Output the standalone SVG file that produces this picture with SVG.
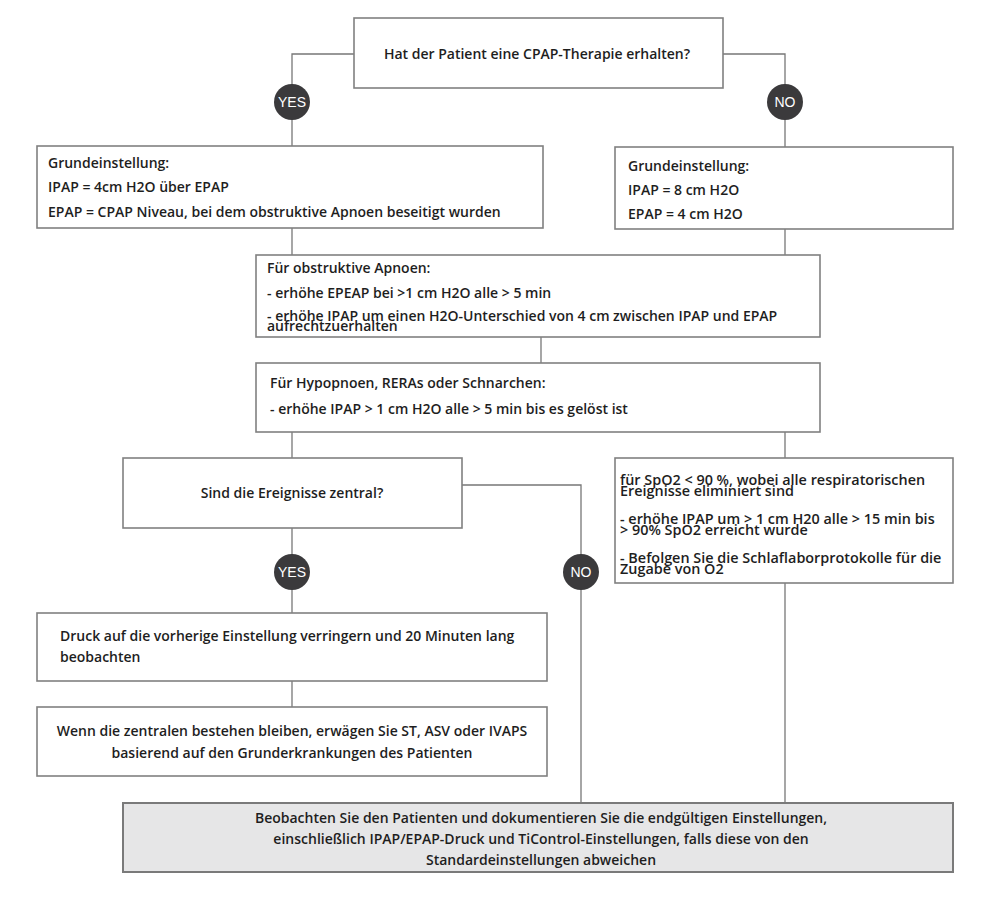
<svg xmlns="http://www.w3.org/2000/svg" width="1000" height="906" viewBox="0 0 1000 906">
<style>
.box{fill:#ffffff;stroke:#808080;stroke-width:1.6}
.final{fill:#e6e6e7;stroke:#7a7a7a;stroke-width:2}
.ln{fill:none;stroke:#777777;stroke-width:1.3}
.t{font-family:"Open Sans","Liberation Sans",sans-serif;font-weight:600;font-size:14px;fill:#1e1e1e}
.s{font-size:14.4px}
.tc{text-anchor:middle}
.badge{fill:#3b3a3c}
.bt{font-family:"Liberation Sans","DejaVu Sans",sans-serif;font-size:14px;fill:#ffffff;text-anchor:middle}
</style>
<rect width="1000" height="906" fill="#ffffff"/>
<g id="connectors">
<polyline class="ln" points="354,54 292,54 292,146"/>
<polyline class="ln" points="723,54 785,54 785,147"/>
<line class="ln" x1="292" y1="228" x2="292" y2="255"/>
<line class="ln" x1="785" y1="229" x2="785" y2="255"/>
<line class="ln" x1="541" y1="337" x2="541" y2="363"/>
<line class="ln" x1="292" y1="432" x2="292" y2="458"/>
<line class="ln" x1="785" y1="432" x2="785" y2="458"/>
<polyline class="ln" points="462,485 581,485 581,803"/>
<line class="ln" x1="292" y1="528" x2="292" y2="613"/>
<line class="ln" x1="292" y1="681" x2="292" y2="707"/>
<line class="ln" x1="785" y1="583" x2="785" y2="803"/>
</g>
<g id="q1">
<rect class="box" x="354" y="18" width="369" height="70"/>
<text class="t tc" x="537" y="59">Hat der Patient eine CPAP-Therapie erhalten?</text>
</g>
<g id="yes1"><circle class="badge" cx="292" cy="102" r="18"/><text class="bt" x="292" y="107">YES</text></g>
<g id="no1"><circle class="badge" cx="785" cy="102" r="18"/><text class="bt" x="785" y="107">NO</text></g>
<g id="grund-yes">
<rect class="box" x="37" y="146" width="506" height="82"/>
<text class="t" x="48" y="168">Grundeinstellung:</text>
<text class="t" x="48" y="192">IPAP = 4cm H2O über EPAP</text>
<text class="t" x="48" y="217">EPAP = CPAP Niveau, bei dem obstruktive Apnoen beseitigt wurden</text>
</g>
<g id="grund-no">
<rect class="box" x="615" y="147" width="338" height="82"/>
<text class="t" x="628" y="171">Grundeinstellung:</text>
<text class="t" x="628" y="195">IPAP = 8 cm H2O</text>
<text class="t" x="628" y="219">EPAP = 4 cm H2O</text>
</g>
<g id="obstruktiv">
<rect class="box" x="256" y="255" width="564" height="82"/>
<text class="t" x="267" y="273">Für obstruktive Apnoen:</text>
<text class="t" x="267" y="298">- erhöhe EPEAP bei &gt;1 cm H2O alle &gt; 5 min</text>
<text class="t" x="267" y="321">- erhöhe IPAP um einen H2O-Unterschied von 4 cm zwischen IPAP und EPAP</text>
<text class="t" x="267" y="331">aufrechtzuerhalten</text>
</g>
<g id="hypopnoen">
<rect class="box" x="256" y="363" width="564" height="69"/>
<text class="t" x="270" y="388">Für Hypopnoen, RERAs oder Schnarchen:</text>
<text class="t" x="270" y="414">- erhöhe IPAP &gt; 1 cm H2O alle &gt; 5 min bis es gelöst ist</text>
</g>
<g id="q2">
<rect class="box" x="123" y="458" width="339" height="70"/>
<text class="t tc" x="292" y="498">Sind die Ereignisse zentral?</text>
</g>
<g id="yes2"><circle class="badge" cx="292" cy="572" r="18"/><text class="bt" x="292" y="577">YES</text></g>
<g id="no2"><circle class="badge" cx="581" cy="572" r="18"/><text class="bt" x="581" y="577">NO</text></g>
<g id="spo2">
<rect class="box" x="615" y="458" width="338" height="125"/>
<text class="t s" x="620" y="485">für SpO2 &lt; 90 %, wobei alle respiratorischen</text>
<text class="t s" x="620" y="496">Ereignisse eliminiert sind</text>
<text class="t s" x="620" y="524">- erhöhe IPAP um &gt; 1 cm H20 alle &gt; 15 min bis</text>
<text class="t s" x="620" y="535">&gt; 90% SpO2 erreicht wurde</text>
<text class="t s" x="620" y="563">- Befolgen Sie die Schlaflaborprotokolle für die</text>
<text class="t s" x="620" y="574">Zugabe von O2</text>
</g>
<g id="druck">
<rect class="box" x="37" y="613" width="510" height="68"/>
<text class="t" x="60" y="641">Druck auf die vorherige Einstellung verringern und 20 Minuten lang</text>
<text class="t" x="60" y="662">beobachten</text>
</g>
<g id="wenn">
<rect class="box" x="37" y="707" width="510" height="69"/>
<text class="t tc" x="292" y="736">Wenn die zentralen bestehen bleiben, erwägen Sie ST, ASV oder IVAPS</text>
<text class="t tc" x="292" y="758">basierend auf den Grunderkrankungen des Patienten</text>
</g>
<g id="final">
<rect class="final" x="123" y="803" width="830" height="69"/>
<text class="t tc" x="541" y="823">Beobachten Sie den Patienten und dokumentieren Sie die endgültigen Einstellungen,</text>
<text class="t tc" x="541" y="844">einschließlich IPAP/EPAP-Druck und TiControl-Einstellungen, falls diese von den</text>
<text class="t tc" x="541" y="865">Standardeinstellungen abweichen</text>
</g>
</svg>
